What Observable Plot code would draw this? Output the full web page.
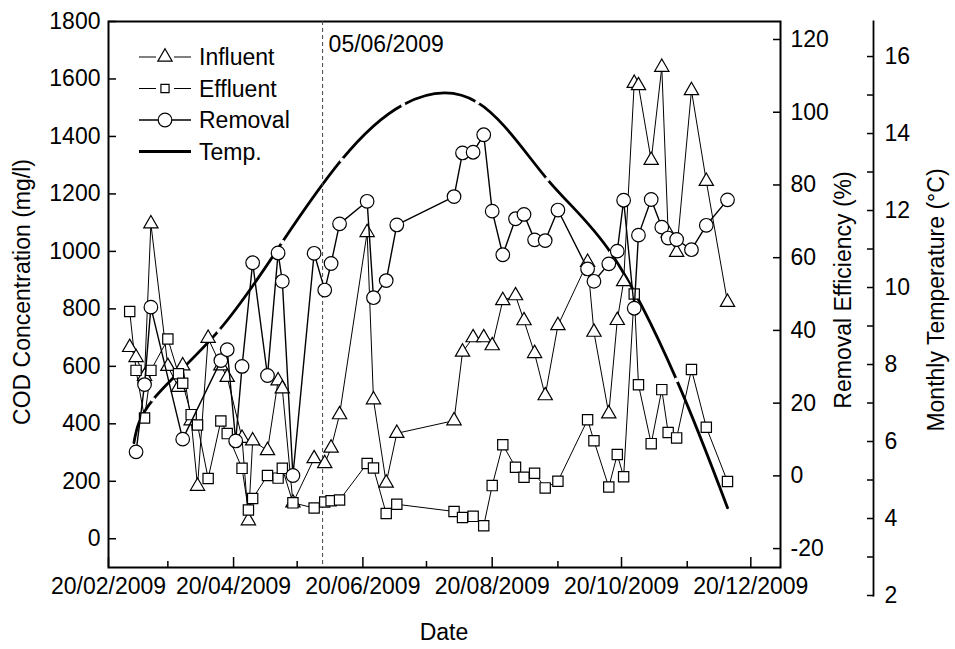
<!DOCTYPE html>
<html>
<head>
<meta charset="utf-8">
<script src="https://cdn.jsdelivr.net/npm/d3@7"></script>
<script src="https://cdn.jsdelivr.net/npm/@observablehq/plot@0.6"></script>
<style>
  html, body { margin: 0; padding: 0; background: white; }
  #chart { position: relative; width: 955px; height: 649px; }
  #chart > div, #chart > svg { position: absolute; left: 0; top: 0; }
</style>
</head>
<body>
<div id="chart">
  <div id="layerTemp"></div>
  <div id="layerCOD"></div>
  <div id="layerRem"></div>
</div>
<script>
// ---------------- data ----------------
const sampleDates = [
  "2009-03-02","2009-03-05","2009-03-09","2009-03-12","2009-03-20","2009-03-25","2009-03-27","2009-03-31",
  "2009-04-03","2009-04-08","2009-04-14","2009-04-17","2009-04-24","2009-04-27","2009-04-29",
  "2009-05-06","2009-05-11","2009-05-13","2009-05-18","2009-05-28",
  "2009-06-02","2009-06-05","2009-06-09","2009-06-22","2009-06-25",
  "2009-07-01","2009-07-06",
  "2009-08-02","2009-08-06","2009-08-11","2009-08-16","2009-08-20","2009-08-25","2009-08-31",
  "2009-09-04","2009-09-09","2009-09-14","2009-09-20",
  "2009-10-04","2009-10-07","2009-10-14","2009-10-18","2009-10-21","2009-10-26","2009-10-28",
  "2009-11-03","2009-11-08","2009-11-11","2009-11-15","2009-11-22","2009-11-29","2009-12-09"
];
const influent = [
  666, 631, 565, 1096, 600, 527, 602, 411,
  183, 698, 602, 562, 350, 63, 341,
  307, 550, 522, 125, 279,
  262, 316, 432, 1066, 484,
  194, 367,
  411, 650, 700, 700, 672, 829, 846,
  759, 645, 498, 742,
  962, 719, 435, 760, 895, 1585, 1577,
  1317, 1641, 1065, 997, 1560, 1244, 823
];
const effluent = [
  791, 586, 420, 586, 695, 574, 541, 432,
  396, 210, 410, 366, 245, 100, 140,
  220, 211, 245, 125, 107,
  128, 132, 135, 262, 246,
  88, 120,
  95, 74, 78, 45, 185, 327, 249,
  214, 228, 177, 200,
  414, 341, 180, 293, 216, 852, 536,
  331, 519, 370, 351, 589, 388, 199
];
const removalDates = [
  "2009-03-05","2009-03-09","2009-03-12","2009-03-27","2009-04-14","2009-04-17","2009-04-21","2009-04-24","2009-04-29",
  "2009-05-06","2009-05-11","2009-05-13","2009-05-18","2009-05-28",
  "2009-06-02","2009-06-05","2009-06-09","2009-06-22","2009-06-25",
  "2009-07-01","2009-07-06",
  "2009-08-02","2009-08-06","2009-08-11","2009-08-16","2009-08-20","2009-08-25","2009-08-31",
  "2009-09-04","2009-09-09","2009-09-14","2009-09-20",
  "2009-10-04","2009-10-07","2009-10-14","2009-10-18","2009-10-21","2009-10-26","2009-10-28",
  "2009-11-03","2009-11-08","2009-11-11","2009-11-15","2009-11-22","2009-11-29","2009-12-09"
];
const removal = [
  6.6, 25.1, 46.4, 10.1, 31.7, 34.7, 9.6, 30.1, 58.6,
  27.6, 61.3, 53.5, 0.1, 61.2,
  51.1, 58.4, 69.3, 75.5, 49.0,
  53.7, 69.0,
  76.8, 88.8, 89.0, 93.8, 72.8, 60.8, 70.7,
  71.9, 64.9, 64.7, 73.1,
  56.9, 53.5, 58.3, 61.8, 75.8, 46.1, 66.2,
  76.0, 68.4, 65.4, 65.0, 62.2, 68.9, 75.9
];
const tempDates = ["2009-03-04","2009-03-13","2009-04-13","2009-05-13","2009-06-10","2009-07-09",
                   "2009-08-13","2009-09-15","2009-10-15","2009-11-15","2009-12-09"];
const temperature = [5.97, 7.09, 8.88, 11.18, 13.32, 14.75, 14.81, 12.81, 10.9, 7.6, 4.28];

const xMajorTicks = ["2009-02-20","2009-04-20","2009-06-20","2009-08-20","2009-10-20","2009-12-20"];
const xMinorTicks = ["2009-03-20","2009-05-20","2009-07-20","2009-09-20","2009-11-20"];
const codTicks = [0, 200, 400, 600, 800, 1000, 1200, 1400, 1600, 1800];
const removalTicks = [-20, 0, 20, 40, 60, 80, 100, 120];
const tempTicks = [2, 4, 6, 8, 10, 12, 14, 16];
const tempMinorTicks = [3, 5, 7, 9, 11, 13, 15];
const markerDate = "2009-06-01";
const markerLabel = "05/06/2009";
const seriesNames = ["Influent", "Effluent", "Removal", "Temp."];
const axisTitles = {x: "Date", cod: "COD Concentration (mg/l)", removal: "Removal Efficiency (%)", temp: "Monthly Temperature (°C)"};

// ---------------- layout ----------------
const parse = d3.utcParse("%Y-%m-%d");
const W = 955, H = 649;
const xDomain = [parse("2009-02-20"), parse("2010-01-03")];
const xRange = [108, 780];
const FONT = "'Liberation Sans', Arial, Helvetica, sans-serif";
const FS = 23;
const plain = d => String(d);
const baseStyle = {background: "transparent", fontFamily: FONT, fontSize: FS + "px", overflow: "visible", color: "black"};

const codRows = sampleDates.map((d, i) => ({date: parse(d), inf: influent[i], eff: effluent[i]}));
const remRows = removalDates.map((d, i) => ({date: parse(d), v: removal[i]}));
const tempRows = tempDates.map((d, i) => ({date: parse(d), v: temperature[i]}));

// Temperature layer (bottom)
const plotTemp = Plot.plot({
  width: W, height: H,
  marginLeft: 108, marginRight: 82, marginTop: 21, marginBottom: 54,
  style: baseStyle,
  x: {type: "utc", domain: xDomain, range: xRange, axis: null},
  y: {domain: [2, 16.91]},
  marks: [
    Plot.frame({anchor: "right", stroke: "black", strokeWidth: 1.8}),
    Plot.axisY({anchor: "right", ticks: tempTicks, tickSize: -7, tickPadding: 18, strokeWidth: 1.5,
      tickFormat: plain, label: null}),
    Plot.axisY({anchor: "right", ticks: tempMinorTicks, tickSize: -7, tickFormat: () => "", strokeWidth: 1.5, label: null}),
    Plot.line(tempRows, {x: "date", y: "v", curve: "natural", stroke: "black", strokeWidth: 2.8}),
    Plot.dot(tempRows.slice(1, -1), {x: "date", y: "v", r: 2.3, fill: "white", stroke: null})
  ]
});

// COD layer
const plotCOD = Plot.plot({
  width: W, height: H,
  marginLeft: 108, marginRight: 175, marginTop: 21, marginBottom: 82,
  style: baseStyle,
  x: {type: "utc", domain: xDomain, range: xRange},
  y: {domain: [-100, 1800]},
  marks: [
    Plot.frame({stroke: "black", strokeWidth: 2}),
    Plot.axisX({ticks: xMajorTicks.map(parse), tickFormat: d3.utcFormat("%d/%m/%Y"), tickSize: -10, tickPadding: 20,
      strokeWidth: 1.5, label: null}),
    Plot.axisX({ticks: xMinorTicks.map(parse), tickFormat: () => "", tickSize: -6, strokeWidth: 1.5, label: null}),
    Plot.axisY({ticks: codTicks, tickSize: -8, tickPadding: 16, strokeWidth: 1.5, tickFormat: plain, label: null}),
    Plot.ruleX([parse(markerDate)], {stroke: "#444", strokeWidth: 1, strokeDasharray: "4,3"}),
    Plot.text([markerLabel], {x: () => parse(markerDate), text: d => d, frameAnchor: "top", textAnchor: "start",
      lineAnchor: "top", dx: 6, dy: 14, fontSize: FS}),
    Plot.line(codRows, {x: "date", y: "inf", stroke: "black", strokeWidth: 1}),
    Plot.line(codRows, {x: "date", y: "eff", stroke: "black", strokeWidth: 1}),
    Plot.dot(codRows, {x: "date", y: "inf", symbol: "triangle", r: 5.3, fill: "white", stroke: "black", strokeWidth: 1.2}),
    Plot.dot(codRows, {x: "date", y: "eff", symbol: "square", r: 5.8, fill: "white", stroke: "black", strokeWidth: 1.2})
  ]
});

// Removal layer (top)
const plotRem = Plot.plot({
  width: W, height: H,
  marginLeft: 108, marginRight: 175, marginTop: 21, marginBottom: 82,
  style: baseStyle,
  x: {type: "utc", domain: xDomain, range: xRange, axis: null},
  y: {domain: [-25.2, 124.95]},
  marks: [
    Plot.axisY({anchor: "right", ticks: removalTicks, tickSize: -8, tickPadding: 18, strokeWidth: 1.5,
      tickFormat: plain, label: null}),
    Plot.line(remRows, {x: "date", y: "v", stroke: "black", strokeWidth: 1.4}),
    Plot.dot(remRows, {x: "date", y: "v", r: 6.8, fill: "white", stroke: "black", strokeWidth: 1.2})
  ]
});

document.getElementById("layerTemp").appendChild(plotTemp);
document.getElementById("layerCOD").appendChild(plotCOD);
document.getElementById("layerRem").appendChild(plotRem);

// Overlay: legend and axis titles
const overlay = d3.select("#chart").append("svg")
  .attr("width", W).attr("height", H)
  .style("position", "absolute").style("left", 0).style("top", 0)
  .style("font-family", FONT).style("font-size", FS + "px");

overlay.append("text").attr("transform", "translate(30,292) rotate(-90)").attr("text-anchor", "middle").text(axisTitles.cod);
overlay.append("text").attr("transform", "translate(851,290) rotate(-90)").attr("text-anchor", "middle").text(axisTitles.removal);
overlay.append("text").attr("transform", "translate(944,300) rotate(-90)").attr("text-anchor", "middle").text(axisTitles.temp);
overlay.append("text").attr("x", 444).attr("y", 640).attr("text-anchor", "middle").text(axisTitles.x);

const lx0 = 139, lx1 = 191, lxc = 165, ltx = 199, ly0 = 57, ldy = 31.5;
seriesNames.forEach((name, i) => {
  const g = overlay.append("g").attr("transform", `translate(0,${ly0 + i * ldy})`);
  if (i === 3) {
    g.append("line").attr("x1", lx0).attr("x2", lx1).attr("y1", 0).attr("y2", 0).attr("stroke", "black").attr("stroke-width", 2.8);
  } else if (i === 2) {
    g.append("line").attr("x1", lx0).attr("x2", lx1).attr("y1", 0).attr("y2", 0).attr("stroke", "black").attr("stroke-width", 1.4);
    g.append("circle").attr("cx", lxc).attr("cy", 0).attr("r", 6.8).attr("fill", "white").attr("stroke", "black").attr("stroke-width", 1.2);
  } else {
    g.append("line").attr("x1", lx0).attr("x2", lxc - 9).attr("y1", 0).attr("y2", 0).attr("stroke", "black").attr("stroke-width", 1);
    g.append("line").attr("x1", lxc + 9).attr("x2", lx1).attr("y1", 0).attr("y2", 0).attr("stroke", "black").attr("stroke-width", 1);
    const sym = i === 0 ? d3.symbolTriangle : d3.symbolSquare;
    const r = i === 0 ? 5.3 : 4.6;
    g.append("path").attr("d", d3.symbol(sym, r * r * Math.PI)()).attr("transform", `translate(${lxc},0)`)
      .attr("fill", "white").attr("stroke", "black").attr("stroke-width", 1.2);
  }
  g.append("text").attr("x", ltx).attr("y", 0).attr("dy", "0.35em").text(name);
});
</script>
</body>
</html>
